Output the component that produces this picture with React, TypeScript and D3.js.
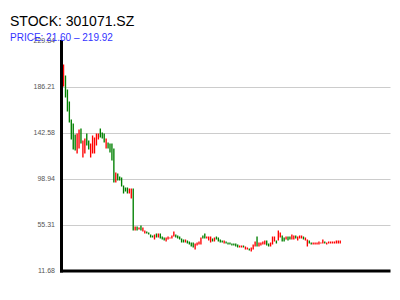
import React from "react";
import * as d3 from "d3";

const TITLE = "STOCK: 301071.SZ";
const PRICE_LOW = 21.6;
const PRICE_HIGH = 219.92;
const Y_TICKS = [11.68, 55.31, 98.94, 142.58, 186.21, 229.84];

// daily open / close (bodies only)
const OPEN = [
  186.68, 197.11, 183.83, 172.45, 155.38, 151.58, 141.15, 123.13, 127.87, 146.84,
  119.34, 123.13, 142.1, 135.46, 119.34, 123.13, 123.13, 130.72, 136.41, 146.84,
  143.05, 142.1, 127.87, 133.56, 132.61, 132.61, 127.87, 95.62, 104.16, 101.31,
  100.37, 92.78, 90.88, 90.88, 85.19, 80.45, 89.93,
  50.09, 53.89, 51.04, 54.84, 49.15, 47.25, 49.15, 48.2, 46.3, 45.35,
  41.56, 47.25, 43.46, 47.25, 44.4, 43.46, 39.66, 41.56, 42.51, 42.51,
  44.4, 46.3, 45.35, 44.4, 42.51, 41.56, 38.71, 40.61, 39.66, 38.71,
  38.71, 32.07, 35.87, 36.82, 36.82, 45.35, 47.25, 42.51, 40.61, 38.71,
  42.51, 39.66, 44.4, 43.46, 41.56, 40.61, 37.76, 39.66, 38.71, 38.71,
  37.76, 37.76, 37.76, 36.82, 33.97, 33.97, 35.87, 32.07, 32.07, 33.02,
  30.18, 32.07, 34.92, 44.4,
  34.92, 35.87, 36.82, 36.82, 40.61, 37.76, 34.92, 36.82, 39.66, 40.61,
  40.61, 43.46, 45.35, 43.46, 41.56, 44.4, 44.4, 41.56, 41.56, 45.35,
  40.61, 42.51, 42.51, 44.4, 40.61, 34.92, 40.61, 38.71, 36.82, 36.82,
  36.82, 36.82, 37.76, 37.76, 39.66, 36.82, 37.76, 37.76, 37.76, 37.76,
  37.76, 37.76, 37.76,
];
const CLOSE = [
  207.55, 176.25, 162.97, 152.53, 136.41, 126.92, 125.97, 142.1, 145.89, 132.61,
  135.46, 137.36, 130.72, 126.92, 132.61, 140.2, 138.31, 142.1, 142.1, 138.31,
  137.36, 133.56, 137.36, 127.87, 124.08, 116.49, 95.62, 105.11, 97.52, 97.52,
  91.83, 85.19, 87.09, 85.19, 89.93, 89.93, 50.09,
  53.89, 50.09, 52.94, 50.09, 52.94, 50.09, 47.25, 46.3, 43.46, 43.46,
  46.3, 43.46, 47.25, 42.51, 41.56, 40.61, 43.46, 44.4, 43.46, 45.35,
  49.15, 43.46, 42.51, 41.56, 38.71, 38.71, 41.56, 37.76, 36.82, 34.92,
  33.97, 37.76, 38.71, 39.66, 43.46, 42.51, 42.51, 44.4, 44.4, 44.4,
  39.66, 43.46, 41.56, 39.66, 38.71, 38.71, 40.61, 37.76, 36.82, 36.82,
  35.87, 35.87, 34.92, 33.97, 35.87, 35.87, 33.97, 34.92, 33.97, 31.12,
  33.97, 36.82, 39.66, 34.92,
  38.71, 38.71, 39.66, 40.61, 35.87, 34.92, 38.71, 44.4, 44.4, 37.76,
  50.09, 48.2, 39.66, 39.66, 44.4, 40.61, 41.56, 46.3, 45.35, 42.51,
  44.4, 45.35, 45.35, 41.56, 43.46, 41.56, 37.76, 36.82, 38.71, 38.71,
  38.71, 39.66, 38.71, 41.56, 37.76, 38.71, 39.66, 39.66, 39.66, 39.66,
  40.61, 40.61, 40.61,
];

export default function App() {
  const W = 400;
  const H = 300;
  const n = Math.min(OPEN.length, CLOSE.length);
  const idx = d3.range(n);

  const y = d3.scaleLinear().domain([Y_TICKS[0], Y_TICKS[Y_TICKS.length - 1]]).range([271, 41]);
  const x = d3.scaleBand<number>().domain(idx).range([62.3, 341.5]).padding(0.3);

  const axisX = 61.5;
  const axisY = 271;
  const fmt = d3.format(".2f");

  return (
    <svg
      width={W}
      height={H}
      style={{ position: "absolute", left: 0, top: 0, background: "#fff" }}
      fontFamily="'Liberation Sans', Arial, Helvetica, sans-serif"
    >
      {/* gridlines */}
      {Y_TICKS.slice(1, -1).map((t) => (
        <line
          key={"g" + t}
          x1={axisX}
          x2={390.5}
          y1={Math.round(y(t)) + 0.5}
          y2={Math.round(y(t)) + 0.5}
          stroke="#cccccc"
          strokeWidth={1}
        />
      ))}

      {/* candles */}
      {idx.map((i) => {
        const o = OPEN[i];
        const c = CLOSE[i];
        const up = c >= o;
        const top = y(Math.max(o, c));
        const bot = y(Math.min(o, c));
        return (
          <rect
            key={i}
            x={x(i)}
            y={top}
            width={x.bandwidth()}
            height={Math.max(1, bot - top)}
            fill={up ? "#ff0000" : "#008000"}
          />
        );
      })}

      {/* y tick labels */}
      {Y_TICKS.map((t) => (
        <text
          key={"t" + t}
          x={55}
          y={y(t)}
          dy="0.35em"
          textAnchor="end"
          fontSize={7}
          fill="#555"
        >
          {fmt(t)}
        </text>
      ))}

      {/* axes */}
      <line x1={axisX} x2={axisX} y1={40} y2={272.5} stroke="#000" strokeWidth={3} />
      <line x1={60} x2={390.5} y1={axisY} y2={axisY} stroke="#000" strokeWidth={3} />

      {/* titles */}
      <text x={10} y={25.5} fontSize={14} fill="#000">
        {TITLE}
      </text>
      <text x={10} y={41} fontSize={10} fill="#3333ff">
        {`PRICE: ${fmt(PRICE_LOW)} – ${fmt(PRICE_HIGH)}`}
      </text>
    </svg>
  );
}
